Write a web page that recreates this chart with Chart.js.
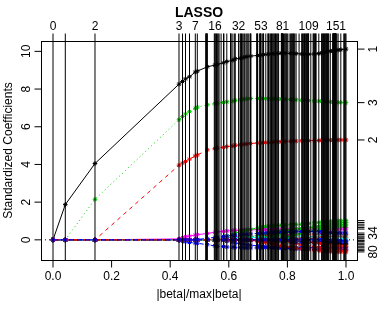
<!DOCTYPE html>
<html><head><meta charset="utf-8">
<script src="https://cdn.jsdelivr.net/npm/chart.js@4/dist/chart.umd.min.js"></script>
<style>html,body{margin:0;padding:0;background:#fff;overflow:hidden}canvas{display:block}</style>
</head><body>
<canvas id="c" width="379" height="312"></canvas>
<script>
// x position (|beta|/max|beta|) of every LARS/LASSO step 0..158
const steps = [0, 0.042, 0.1433, 0.4300, 0.4420, 0.4522, 0.4659, 0.4857, 0.4925,
0.5215, 0.5225, 0.5235, 0.5246, 0.5256, 0.5266, 0.5505, 0.5526, 0.5553, 0.5580, 0.5608, 0.5638, 0.5669, 0.5737, 0.5819, 0.5833, 0.5932, 0.6058, 0.6068, 0.6078, 0.6140, 0.6201, 0.6218, 0.6334,
0.6386, 0.6406, 0.6433, 0.6461, 0.6515, 0.6529, 0.6584, 0.6618, 0.6652, 0.6686, 0.6734, 0.6744, 0.6754, 0.6952, 0.6966, 0.6980, 0.7041, 0.7068, 0.7078, 0.7089, 0.7099,
0.7160, 0.7174, 0.7188, 0.7263, 0.7334, 0.7348, 0.7362, 0.7403, 0.7430, 0.7457, 0.7485, 0.7512, 0.7539, 0.7567, 0.7594, 0.7621, 0.7648, 0.7676, 0.7700, 0.7792, 0.7799, 0.7805, 0.7812, 0.7819, 0.7826, 0.7829, 0.7833, 0.7836,
0.7867, 0.7894, 0.7922, 0.7949, 0.7976, 0.7997, 0.8058, 0.8109, 0.8133, 0.8157, 0.8181, 0.8205, 0.8229, 0.8253, 0.8297, 0.8399, 0.8488, 0.8512, 0.8536, 0.8560, 0.8584, 0.8608, 0.8631, 0.8655, 0.8679, 0.8696, 0.8713, 0.8724,
0.8799, 0.8877, 0.8898, 0.8918, 0.8939, 0.8959, 0.8980, 0.9072, 0.9167, 0.9188, 0.9208, 0.9229, 0.9249, 0.9270, 0.9290, 0.9311, 0.9331, 0.9352, 0.9372, 0.9392, 0.9410, 0.9464,
0.9549, 0.9556, 0.9563, 0.9570, 0.9577, 0.9584, 0.9590, 0.9597, 0.9604, 0.9611, 0.9618, 0.9625, 0.9631, 0.9635, 0.9638, 0.9642, 0.9645, 0.9648, 0.9652, 0.9659,
0.9686, 0.9730, 0.9823, 0.9925, 0.9952, 0.9976, 1.0];

const sampleSteps = [0,1,2,3,4,5,6,7,8,14,16,19,23,25,29,31,34,37,40,44,48,53,56,58,63,66,71,73,81,84,89,93,96,98,102,109,113,117,118,122,127,131,133,148,153,154,158];

const xTicks = [0, 0.2, 0.4, 0.6, 0.8, 1.0];
const yTicks = [0, 2, 4, 6, 8, 10];
const topLabelSteps = [0, 2, 3, 7, 16, 32, 53, 81, 109, 151];
const rightLabelIds = ['1', '3', '2', '34', '80'];

// coefficient paths (values at sampleSteps)
const v1 = [0,1.87,4.05,8.26,8.40,8.54,8.65,8.90,8.95,9.18, 9.27,9.31,9.39,9.46,9.53,9.60,9.64,9.68,9.72,9.75, 9.78,9.80,9.83,9.85,9.87,9.88,9.89,9.90,9.90,9.90, 9.90,9.89,9.88,9.86,9.85,9.85,9.86,9.88,9.92,9.95, 9.99,10.01,10.03,10.05,10.07,10.09,10.12];
const v2 = [0,0,0,3.96,4.07,4.16,4.28,4.45,4.50,4.77, 4.84,4.87,4.91,4.95,4.98,5.02,5.04,5.07,5.09,5.11, 5.14,5.15,5.16,5.17,5.18,5.19,5.20,5.21,5.21,5.22, 5.23,5.24,5.24,5.25,5.26,5.26,5.27,5.27,5.28,5.28, 5.29,5.29,5.29,5.30,5.30,5.30,5.30];
const v3 = [0,0,2.15,6.37,6.54,6.68,6.80,6.98,7.04,7.16, 7.22,7.25,7.29,7.32,7.36,7.40,7.43,7.46,7.48,7.50, 7.50,7.50,7.49,7.49,7.48,7.48,7.47,7.47,7.46,7.46, 7.45,7.44,7.43,7.41,7.40,7.39,7.37,7.36,7.35,7.34, 7.33,7.32,7.31,7.30,7.29,7.29,7.28];
const v4 = [0,0,0, -0.03,-0.08,-0.11,-0.14,-0.17,-0.18,-0.26,-0.32,-0.34,-0.36, -0.38,-0.39,-0.4,-0.41,-0.42,-0.43,-0.43,-0.43,-0.42,-0.42, -0.41,-0.41,-0.41,-0.41,-0.41,-0.42,-0.42,-0.42,-0.42,-0.42, -0.42,-0.42,-0.42,-0.42,-0.42,-0.42,-0.42,-0.42,-0.42,-0.42,-0.42,-0.42,-0.42,-0.42];
const v6 = [0,0,0, 0.05,0.12,0.17,0.2,0.25,0.27,0.34,0.4,0.42,0.45, 0.47,0.49,0.5,0.51,0.52,0.52,0.53,0.54,0.54,0.55, 0.55,0.55,0.56,0.56,0.56,0.56,0.56,0.57,0.57,0.57, 0.57,0.57,0.57,0.57,0.57,0.57,0.57,0.57,0.57,0.57,0.57,0.57,0.57,0.57];
const v8 = [0,0,0,0,0,0,0,0,0, 0,0.04,0.06,0.09,0.11,0.13,0.15,0.16,0.17,0.18, 0.19,0.2,0.21,0.22,0.22,0.23,0.23,0.24,0.24,0.25, 0.25,0.25,0.26,0.26,0.26,0.27,0.27,0.27,0.27,0.28, 0.28,0.28,0.28,0.28,0.28,0.28,0.28,0.28];
const v9 = [0,0,0,0,0,0,0,0,0,0,0,0,0,0, 0,0.04,0.07,0.11,0.14,0.18,0.24,0.27,0.3,0.33, 0.37,0.4,0.43,0.46,0.48,0.5,0.53,0.55,0.58,0.6, 0.62,0.65,0.68,0.7,0.72,0.74,0.76,0.78,0.79,0.8, 0.81,0.82,0.83];
const v10 = [0,0,0,0,0,0,0,0,0,0,0, 0,-0.04,-0.08,-0.13,-0.17,-0.2,-0.23,-0.26,-0.28,-0.32, -0.34,-0.36,-0.38,-0.4,-0.41,-0.42,-0.43,-0.44,-0.45,-0.46, -0.47,-0.48,-0.48,-0.49,-0.49,-0.5,-0.5,-0.5,-0.5,-0.5, -0.5,-0.5,-0.5,-0.5,-0.5,-0.5];
const v11 = [0,0,0,0,0,0,0,0,0,0,0,0, 0,0.02,0.04,0.06,0.08,0.09,0.1,0.11,0.12,0.12, 0.12,0.11,0.11,0.1,0.1,0.09,0.08,0.08,0.07,0.06, 0.05,0.05,0.04,0.03,0.02,0.02,0.01,0.01,0,0, -0.01,-0.01,-0.02,-0.02,-0.02];
const v12 = [0,0,0,0,0,0,0,0,0,0,0,0,0,0,0,0,0,0,0,0,0,0,0, 0,0.04,0.08,0.12,0.16,0.18,0.22,0.27,0.31,0.35, 0.39,0.42,0.46,0.5,0.52,0.55,0.57,0.59,0.61,0.62, 0.63,0.64,0.65,0.65];
const v13 = [0,0,0,0,0,0,0,0,0,0,0,0,0,0,0,0, 0,-0.02,-0.03,-0.04,-0.05,-0.06,-0.06,-0.07,-0.07,-0.08, -0.08,-0.08,-0.09,-0.09,-0.09,-0.09,-0.09,-0.09,-0.09,-0.09, -0.1,-0.1,-0.1,-0.1,-0.1,-0.1,-0.1,-0.1,-0.1,-0.1,-0.1];
const v15 = [0,0,0,0,0,0,0,0,0,0,0,0,0,0,0,0,0,0,0,0,0, 0,0.05,0.1,0.16,0.2,0.25,0.29,0.32,0.36,0.42, 0.46,0.5,0.54,0.58,0.62,0.67,0.7,0.74,0.77,0.8, 0.83,0.85,0.87,0.89,0.91,0.92];
const v17 = [0,0,0,0,0,0,0,0,0,0,0,0,0,0,0,0,0,0,0,0, 0,0.02,0.04,0.06,0.08,0.09,0.1,0.11,0.12,0.13, 0.14,0.15,0.15,0.16,0.17,0.17,0.18,0.18,0.19,0.19, 0.19,0.2,0.2,0.2,0.2,0.2,0.2];
const v20 = [0,0,0,0,0,0,0,0,0,0,0,0,0,0,0,0,0,0,0,0,0,0,0,0,0,0,0, 0,-0.03,-0.07,-0.12,-0.16,-0.2,-0.24,-0.28,-0.32,-0.37, -0.4,-0.43,-0.46,-0.48,-0.5,-0.52,-0.53,-0.54,-0.55,-0.56];
const v21 = [0,0,0,0,0,0,0,0,0,0,0,0,0,0,0,0,0,0,0,0,0,0,0,0,0, 0,0.04,0.08,0.1,0.14,0.2,0.25,0.3,0.34,0.39, 0.44,0.5,0.53,0.57,0.6,0.63,0.66,0.68,0.7,0.71, 0.73,0.74];
const v22 = [0,0,0,0,0,0,0,0,0,0,0,0,0,0,0,0,0,0,0,0,0,0,0,0,0,0,0,0, 0,-0.03,-0.06,-0.08,-0.1,-0.12,-0.13,-0.14,-0.15,-0.15, -0.16,-0.16,-0.17,-0.17,-0.17,-0.18,-0.18,-0.18,-0.18];
const v25 = [0,0,0,0,0,0,0,0,0,0,0,0,0,0,0,0,0,0,0,0,0,0,0,0,0,0,0,0,0,0,0,0, 0,-0.03,-0.06,-0.09,-0.12,-0.14,-0.16,-0.18,-0.2,-0.21, -0.22,-0.23,-0.24,-0.25,-0.26];
const v26 = [0,0,0,0,0,0,0,0,0,0,0,0,0,0,0,0,0,0,0,0,0,0,0,0,0,0,0,0,0,0, 0,0.02,0.04,0.05,0.06,0.07,0.08,0.09,0.1,0.11, 0.11,0.12,0.12,0.13,0.13,0.14,0.14];
const v27 = [0,0,0,0,0,0,0,0,0,0, 0,0.04,0.12,0.19,0.28,0.36,0.42,0.47,0.52,0.56, 0.63,0.67,0.7,0.72,0.74,0.75,0.76,0.77,0.78,0.79, 0.8,0.81,0.82,0.83,0.85,0.87,0.9,0.92,0.94,0.95, 0.97,0.98,0.99,1.0,1.01,1.01,1.02];
const v29 = [0,0,0,0,0,0,0,0,0,0,0,0,0,0,0,0,0,0,0,0,0,0,0,0,0,0,0,0,0,0,0,0,0,0,0, 0,0.01,0.02,0.03,0.03,0.04,0.04,0.05,0.05,0.05, 0.06,0.06];
const v32 = [0,0,0,0,0,0,0,0,0,0,0,0,0,0,0,0,0,0,0,0,0,0,0,0,0,0,0,0,0,0,0,0,0, 0,-0.04,-0.08,-0.13,-0.16,-0.19,-0.22,-0.25,-0.27,-0.29, -0.31,-0.32,-0.33,-0.34];
const v34 = [0,0,0,0,0,0,0, 0,0.02,0.08,0.13,0.15,0.18,0.2,0.23,0.25,0.27, 0.29,0.3,0.32,0.34,0.35,0.36,0.37,0.38,0.39,0.4, 0.41,0.41,0.42,0.43,0.43,0.44,0.44,0.44,0.44,0.43, 0.43,0.42,0.41,0.4,0.39,0.38,0.38,0.37,0.37,0.36];
const v80 = [0,0,0,0,0,0,0,0,0,0,0,0,0,0,0,0,0,0, 0,-0.02,-0.07,-0.1,-0.13,-0.16,-0.2,-0.23,-0.27,-0.3, -0.32,-0.35,-0.39,-0.42,-0.45,-0.48,-0.5,-0.53,-0.56,-0.57, -0.59,-0.6,-0.61,-0.62,-0.63,-0.63,-0.64,-0.64,-0.64];
const v82 = [0,0,0,0,0,0,0,0,0,0,0,0,0,0,0,0,0,0,0,0,0,0,0,0,0,0,0,0,0,0,0,0,0,0,0,0,0,0, 0,-0.01,-0.02,-0.03,-0.03,-0.04,-0.04,-0.05,-0.05];

const series = [
  {id:'1', v:v1}, {id:'2', v:v2}, {id:'3', v:v3}, {id:'4', v:v4}, {id:'6', v:v6},
  {id:'8', v:v8}, {id:'9', v:v9}, {id:'10', v:v10}, {id:'11', v:v11}, {id:'12', v:v12},
  {id:'13', v:v13}, {id:'15', v:v15}, {id:'17', v:v17}, {id:'20', v:v20},
  {id:'21', v:v21}, {id:'22', v:v22}, {id:'25', v:v25}, {id:'26', v:v26}, {id:'27', v:v27},
  {id:'29', v:v29}, {id:'32', v:v32}, {id:'34', v:v34}, {id:'80', v:v80}, {id:'82', v:v82}
];

// R default palette and line types
const palette = ['#000000', '#FF0000', '#00CD00', '#0000FF', '#00FFFF', '#FF00FF'];
const ltyDash = [[], [4,4], [1,3], [1,3,4,3], [7,3]];

const datasets = series.map((s, i) => {
  const n = parseInt(s.id, 10) - 1;
  const col = palette[n % 6];
  return {
    label: s.id,
    data: sampleSteps.map((st, k) => ({x: steps[st], y: s.v[k]})),
    borderColor: col,
    backgroundColor: col,
    borderWidth: 1,
    borderDash: ltyDash[n % 5],
    pointStyle: 'star',
    pointRadius: 2.3,
    pointBorderWidth: 1,
    pointBorderColor: col,
    pointBackgroundColor: col,
    fill: false,
    tension: 0,
    order: -i
  };
});

const FONT = '"Liberation Sans", Arial, Helvetica, sans-serif';

const rPlot = {
  id: 'rPlot',
  afterDatasetsDraw(chart) {
    const {ctx, chartArea: a, scales: {x, y}} = chart;
    const L = Math.floor(a.left) + 0.5, T = Math.floor(a.top) + 0.5;
    const R = Math.floor(a.right) + 0.5, B = Math.floor(a.bottom) + 0.5;
    ctx.save();
    ctx.lineWidth = 1;
    ctx.strokeStyle = '#000';
    // abline(h = 0, lty = 3)
    const y0 = y.getPixelForValue(0);
    ctx.setLineDash([1, 3]);
    ctx.beginPath(); ctx.moveTo(a.left, y0); ctx.lineTo(a.right, y0); ctx.stroke();
    ctx.setLineDash([]);
    // vertical lines at each step, plus top ticks
    steps.forEach(st => {
      const px = x.getPixelForValue(st);
      ctx.beginPath(); ctx.moveTo(px, B); ctx.lineTo(px, T - 8); ctx.stroke();
    });
    // box
    ctx.strokeRect(L, T, R - L, B - T);
    // left ticks
    yTicks.forEach(v => {
      const py = y.getPixelForValue(v);
      ctx.beginPath(); ctx.moveTo(L, py); ctx.lineTo(L - 7, py); ctx.stroke();
    });
    // bottom ticks
    xTicks.forEach(v => {
      const px = x.getPixelForValue(v);
      ctx.beginPath(); ctx.moveTo(px, B); ctx.lineTo(px, B + 7); ctx.stroke();
    });
    // right ticks at final coefficients
    series.forEach(s => {
      const py = y.getPixelForValue(s.v[s.v.length - 1]);
      ctx.beginPath(); ctx.moveTo(R, py); ctx.lineTo(R + 7, py); ctx.stroke();
    });
    // labels
    ctx.fillStyle = '#000';
    ctx.font = '12px ' + FONT;
    ctx.textAlign = 'center';
    ctx.textBaseline = 'alphabetic';
    xTicks.forEach(v => ctx.fillText(v.toFixed(1), x.getPixelForValue(v), 280));
    topLabelSteps.forEach(k => ctx.fillText(String(k), x.getPixelForValue(steps[k]), 30));
    yTicks.forEach(v => {
      ctx.save(); ctx.translate(30.3, y.getPixelForValue(v)); ctx.rotate(-Math.PI / 2);
      ctx.fillText(String(v), 0, 0); ctx.restore();
    });
    series.filter(s => rightLabelIds.includes(s.id)).forEach(s => {
      ctx.save(); ctx.translate(377, y.getPixelForValue(s.v[s.v.length - 1])); ctx.rotate(-Math.PI / 2);
      ctx.fillText(s.id, 0, 0); ctx.restore();
    });
    const cx = (a.left + a.right) / 2, cy = (a.top + a.bottom) / 2;
    ctx.fillText('|beta|/max|beta|', cx, 298);
    ctx.save(); ctx.translate(11.5, cy); ctx.rotate(-Math.PI / 2);
    ctx.fillText('Standardized Coefficients', 0, 0); ctx.restore();
    ctx.font = 'bold 14px ' + FONT;
    ctx.fillText('LASSO', cx, 16.7);
    ctx.restore();
  }
};

new Chart(document.getElementById('c'), {
  type: 'line',
  data: {datasets},
  options: {
    responsive: false,
    animation: false,
    devicePixelRatio: 1,
    layout: {padding: {left: 41, top: 41, right: 22, bottom: 52}},
    scales: {
      x: {type: 'linear', min: -0.04096, max: 1.03754, display: false},
      y: {type: 'linear', min: -1.07, max: 10.55, display: false}
    },
    plugins: {legend: {display: false}, tooltip: {enabled: false}, title: {display: false}}
  },
  plugins: [rPlot]
});
</script>
</body></html>
